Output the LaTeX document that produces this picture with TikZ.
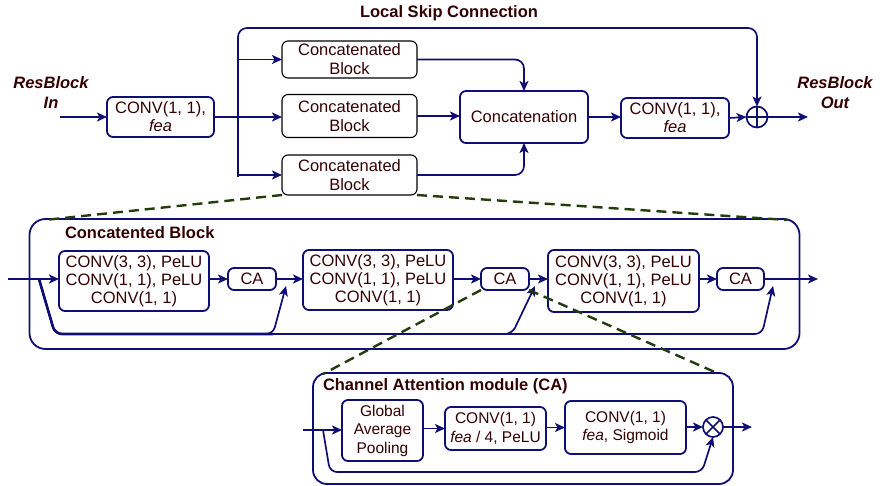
\documentclass[tikz,border=0pt]{standalone}
\usepackage{fontspec}
\setmainfont{Liberation Sans}
\usetikzlibrary{arrows.meta,calc}
\definecolor{navy}{RGB}{14,14,115}
\definecolor{txt}{RGB}{51,0,0}
\definecolor{dgreen}{RGB}{34,60,12}
\begin{document}
\begin{tikzpicture}[x=1pt,y=-1pt,
  every node/.style={inner sep=0pt, outer sep=0pt, text=txt},
  nbox/.style={draw=navy, line width=1.8pt, rounded corners=6pt, align=center, font=\fontsize{16.5}{18}\selectfont},
  bbox/.style={draw=black, line width=1.1pt, rounded corners=6pt, align=center, font=\fontsize{16.5}{19}\selectfont},
  cbox/.style={draw=navy, line width=1.8pt, rounded corners=6pt, align=center, font=\fontsize{15.5}{18.5}\selectfont},
  container/.style={draw=navy, line width=1.8pt, rounded corners=16pt},
  lab/.style={font=\fontsize{16.5}{20}\selectfont\bfseries, align=center},
  arr/.style={navy, line width=1.7pt, -{Stealth[length=10pt,width=9pt,inset=2.5pt]}},
  ln/.style={navy, line width=1.7pt},
  zoomline/.style={dgreen, line width=2.4pt, dash pattern=on 10pt off 6pt},
  opnode/.style={circle, draw=navy, line width=1.7pt, minimum size=21pt},
]
\useasboundingbox (0,0) rectangle (880,486);

% ---------- top row ----------
\node[lab] (lsc) at (449,13) {Local Skip Connection};
\node[lab, font=\fontsize{16.5}{20}\selectfont\bfseries\itshape] (rin) at (51,93) {ResBlock\\In};
\node[lab, font=\fontsize{16.5}{20}\selectfont\bfseries\itshape] (rout) at (835,93) {ResBlock\\Out};

\node[nbox, minimum width=107, minimum height=40] (conv1) at (160.5,117) {CONV(1, 1),\\\textit{fea}};
\node[bbox, minimum width=135, minimum height=37] (cb1) at (349.5,59.5) {Concatenated\\Block};
\node[bbox, minimum width=135, minimum height=43] (cb2) at (349.5,116) {Concatenated\\Block};
\node[bbox, minimum width=135, minimum height=40] (cb3) at (349.5,175) {Concatenated\\Block};
\node[nbox, minimum width=128, minimum height=52] (concat) at (524,117) {Concatenation};
\node[nbox, minimum width=108, minimum height=40] (conv2) at (675,118) {CONV(1, 1),\\\textit{fea}};
\node[opnode] (plus) at (757,117) {};
\draw[ln] (plus.north) -- (plus.south) (plus.west) -- (plus.east);

\coordinate (inarr) at (60,117);
\coordinate (jtop) at (238,28);
\coordinate (jbot) at (238,177);
\coordinate (outarr) at (808,117);

\draw[arr] (inarr) -- (conv1.west);
\draw[arr] (conv1.east) -- (conv1.east -| cb2.west);
\draw[arr, rounded corners=9pt] (jbot) -- (jtop) -| (plus.north);
\draw[arr] (jtop |- cb1.west) -- (cb1.west);
\draw[arr] (jtop |- cb3.west) -- (cb3.west);
\draw[arr, rounded corners=9pt] (cb1.east) -| (concat.north);
\draw[arr] (cb2.east) -- (cb2.east -| concat.west);
\draw[arr, rounded corners=9pt] (cb3.east) -| (concat.south);
\draw[arr] (concat.east) -- (concat.east -| conv2.west);
\draw[arr] (conv2.east) -- (plus.west);
\draw[arr] (plus.east) -- (outarr);

% ---------- concatenated block ----------
\node[container, minimum width=770, minimum height=130] (cbc) at (414.5,284) {};
\node[lab, anchor=west] (lcb) at (65,233) {Concatented Block};

\node[nbox, minimum width=150, minimum height=60] (c1) at (134,281) {CONV(3, 3), PeLU\\CONV(1, 1), PeLU\\CONV(1, 1)};
\node[nbox, minimum width=48, minimum height=22] (ca1) at (252,279) {CA};
\node[nbox, minimum width=150, minimum height=60] (c2) at (378,280) {CONV(3, 3), PeLU\\CONV(1, 1), PeLU\\CONV(1, 1)};
\node[nbox, minimum width=48, minimum height=22] (ca2) at (505,279) {CA};
\node[nbox, minimum width=151, minimum height=62] (c3) at (623.5,281) {CONV(3, 3), PeLU\\CONV(1, 1), PeLU\\CONV(1, 1)};
\node[nbox, minimum width=47, minimum height=22] (ca3) at (740.5,279) {CA};

\coordinate (min) at (8,279);
\coordinate (mout) at (818,279);
\coordinate (bsplit) at (39,279);
\coordinate (b1) at (286,286);
\coordinate (b2) at (535,286);
\coordinate (b3) at (773,286);

\draw[arr] (min) -- (min -| c1.west);
\draw[arr] (ca1.west -| c1.east) -- (ca1.west);
\draw[arr] (ca1.east) -- (ca1.east -| c2.west);
\draw[arr] (ca2.west -| c2.east) -- (ca2.west);
\draw[arr] (ca2.east) -- (ca2.east -| c3.west);
\draw[arr] (ca3.west -| c3.east) -- (ca3.west);
\draw[arr] (ca3.east) -- (mout);

\draw[ln, line width=2.6pt, rounded corners=7pt] (bsplit) -- (55,334) -- (273,334);
\draw[arr, rounded corners=7pt] (bsplit) -- (55,334) -- (273,334) -- (b1);
\draw[arr, rounded corners=7pt] (bsplit) -- (55,334) -- (512,334) -- (b2);
\draw[arr, rounded corners=7pt] (bsplit) -- (55,334) -- (762,334) -- (b3);

% ---------- channel attention module ----------
\node[container, rounded corners=14pt, minimum width=420, minimum height=111] (cam) at (523,428.5) {};
\node[lab, anchor=west] (lcam) at (323,386) {Channel Attention module (CA)};

\node[cbox, minimum width=81, minimum height=61] (gap) at (382.5,430.5) {Global\\Average\\Pooling};
\node[cbox, minimum width=101, minimum height=43] (cbm) at (495.5,428.5) {CONV(1, 1)\\\textit{fea} / 4, PeLU};
\node[cbox, minimum width=121, minimum height=53] (ccm) at (625.5,427.5) {CONV(1, 1)\\\textit{fea}, Sigmoid};
\node[opnode, minimum size=20pt] (ot) at (713,427) {};
\draw[ln] (ot.north east) -- (ot.south west) (ot.north west) -- (ot.south east);

\coordinate (cin) at (303,430);
\coordinate (csplit) at (323,430);
\coordinate (cout) at (752,427);

\draw[arr] (cin) -- (cin -| gap.west);
\draw[arr] (gap.east |- cbm.west) -- (cbm.west);
\draw[arr] (ccm.west -| cbm.east) -- (ccm.west);
\draw[arr] (ccm.east |- ot.west) -- (ot.west);
\draw[arr] (ot.east) -- (cout);
\draw[arr, rounded corners=7pt] (csplit) -- (330,472) -- (702,472) -- (ot.south);

% ---------- zoom (dashed) lines ----------
\draw[zoomline] (cb3.south west) -- ($(cbc.north west)+(15,1)$);
\draw[zoomline] (cb3.south east) -- ($(cbc.north east)+(-12,1)$);
\draw[zoomline] (ca2.south west) -- ($(cam.north west)+(10,1)$);
\draw[zoomline] (ca2.south east) -- ($(cam.north east)+(-16,0)$);
\end{tikzpicture}
\end{document}
